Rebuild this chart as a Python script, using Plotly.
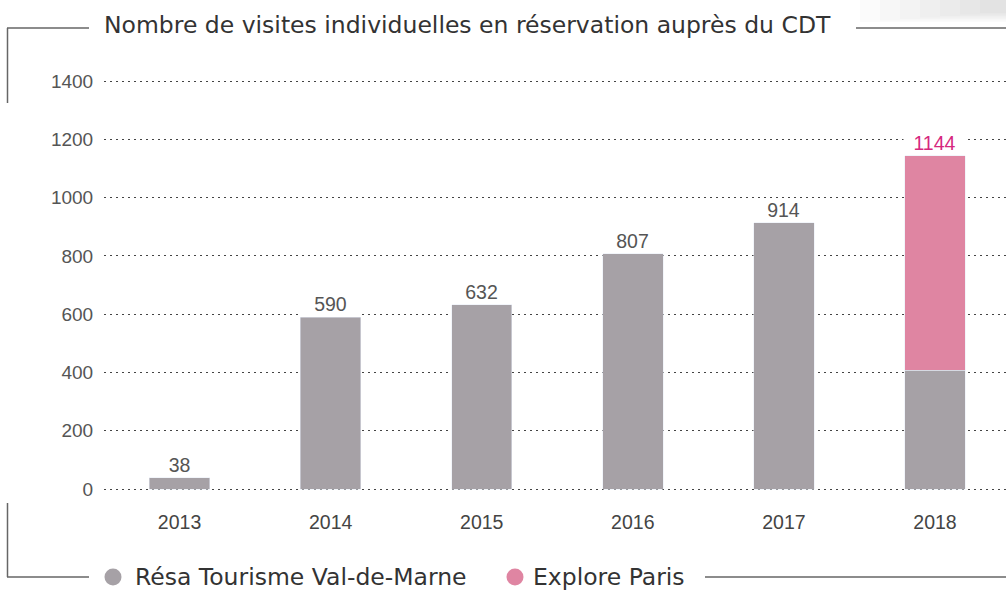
import plotly.graph_objects as go

years = ["2013", "2014", "2015", "2016", "2017", "2018"]
series_names = ["Résa Tourisme Val-de-Marne", "Explore Paris"]
resa = [38, 590, 632, 807, 914, 408]
explore = [None, None, None, None, None, 736]
totals = [38, 590, 632, 807, 914, 1144]
label_colors = ["#555555"] * 5 + ["#d6287e"]
title = "Nombre de visites individuelles en réservation auprès du CDT"

GRAY = "#a6a1a6"
PINK = "#df85a2"
W, H = 1006, 590
L, R, T, B = 104, 0, 78, 98
pw, ph = W - L - R, H - T - B
Y_PAD = 3 / (408 / 1400)  # 3 px of padding in data units

def px(x):
    return (x - L) / pw

def py(y):
    return (H - B - y) / ph

fig = go.Figure()
fig.add_trace(go.Bar(x=years, y=resa, name=series_names[0], marker_color=GRAY,
                     showlegend=False, hoverinfo="skip"))
fig.add_trace(go.Bar(x=years, y=explore, name=series_names[1], marker_color=PINK,
                     showlegend=False, hoverinfo="skip"))

line = dict(color="#666666", width=1.5)
shapes = []
# faint shadow in the top-right corner
for i in range(7):
    shapes.append(dict(type="rect", xref="paper", yref="paper", layer="below",
                       x0=px(860 + i * 20), x1=px(1006), y0=py(0), y1=py(22 - i * 1.5),
                       fillcolor="rgba(120,120,120,0.03)", line=dict(width=0)))
shapes += [
    dict(type="line", xref="paper", yref="paper", x0=px(7), x1=px(89), y0=py(28), y1=py(28), line=line),
    dict(type="line", xref="paper", yref="paper", x0=px(856), x1=px(1006), y0=py(28), y1=py(28), line=line),
    dict(type="line", xref="paper", yref="paper", x0=px(7.5), x1=px(7.5), y0=py(28), y1=py(103), line=line),
    dict(type="line", xref="paper", yref="paper", x0=px(7.5), x1=px(7.5), y0=py(503), y1=py(577), line=line),
    dict(type="line", xref="paper", yref="paper", x0=px(7), x1=px(89), y0=py(577), y1=py(577), line=line),
    dict(type="line", xref="paper", yref="paper", x0=px(705), x1=px(1006), y0=py(577), y1=py(577), line=line),
]

annotations = [dict(text=title, xref="paper", yref="paper", x=px(102), y=py(25),
                    xanchor="left", yanchor="middle", showarrow=False,
                    font=dict(family="DejaVu Sans", size=23.5, color="#333333"))]

# value labels above bars (white background hides the grid behind them)
for i, (tot, col) in enumerate(zip(totals, label_colors)):
    annotations.append(dict(x=i, y=tot, xref="x", yref="y", text=str(tot),
                            showarrow=False, xanchor="center", yanchor="bottom",
                            yshift=1, width=61, bgcolor="white", borderpad=0,
                            font=dict(family="Liberation Sans, Arial", size=19.5, color=col)))

# legend (swatch circles + labels)
legend_items = [(series_names[0], GRAY, 113, 133), (series_names[1], PINK, 515, 531)]
for name, color, cx, tx in legend_items:
    shapes.append(dict(type="circle", xref="paper", yref="paper",
                       x0=px(cx - 8.5), x1=px(cx + 8.5), y0=py(577 - 8.5), y1=py(577 + 8.5),
                       fillcolor=color, line=dict(width=0)))
    annotations.append(dict(text=name, xref="paper", yref="paper", x=px(tx), y=py(577),
                            xanchor="left", yanchor="middle", showarrow=False,
                            font=dict(family="DejaVu Sans", size=23.5, color="#333333")))

fig.update_layout(
    width=W, height=H,
    margin=dict(l=L, r=R, t=T, b=B, autoexpand=False),
    paper_bgcolor="white", plot_bgcolor="white",
    barmode="stack", bargap=0.6,
    showlegend=False,
    shapes=shapes,
    annotations=annotations,
    xaxis=dict(type="category", range=[-0.5, 5.47], showgrid=False, zeroline=False, showline=False,
               ticks="outside", ticklen=13, tickcolor="rgba(0,0,0,0)",
               tickfont=dict(family="Liberation Sans, Arial", size=19.5, color="#444444")),
    yaxis=dict(range=[-Y_PAD, 1400 + Y_PAD], tickvals=[0, 200, 400, 600, 800, 1000, 1200, 1400],
               showgrid=True, gridcolor="#444444", griddash="1.5px,4.5px", gridwidth=1.2,
               zeroline=False, showline=False, ticks="outside", ticklen=6, tickcolor="rgba(0,0,0,0)",
               tickfont=dict(family="Liberation Sans, Arial", size=19, color="#555555")),
)

fig.write_html("out.html", config={"displayModeBar": False},
               post_script="document.body.style.margin='0';document.body.style.overflow='hidden';")
